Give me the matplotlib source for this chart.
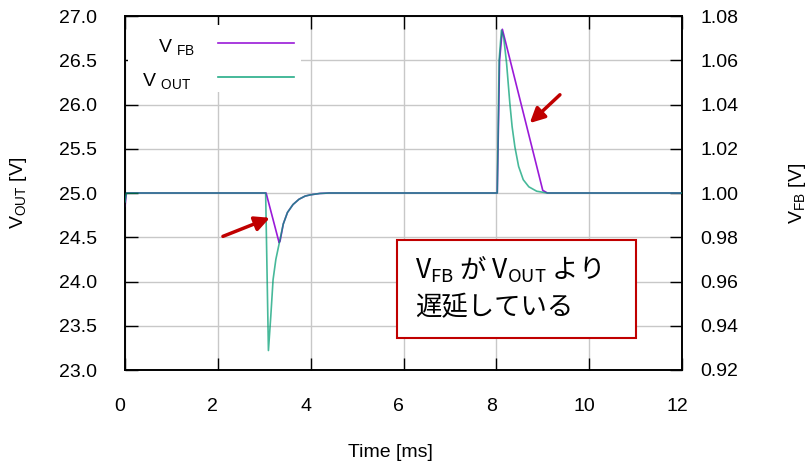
import matplotlib
matplotlib.use("Agg")
from matplotlib import pyplot as plt
from matplotlib.patches import Rectangle
import matplotlib.transforms as mtransforms

plt.rcParams['font.family'] = ['Liberation Sans', 'Noto Sans CJK JP']

# V_OUT (left axis, V)
t_out = [0, 0.03, 3.03, 3.09, 3.14, 3.19, 3.25, 3.33, 3.41, 3.50, 3.62, 3.75,
         3.88, 4.0, 4.2, 4.4, 8.02, 8.06, 8.11, 8.16, 8.22, 8.29, 8.34, 8.40,
         8.48, 8.58, 8.70, 8.87, 9.1, 12]
v_out = [24.9, 25.0, 25.0, 23.22, 23.6, 24.02, 24.25, 24.45, 24.65, 24.78,
         24.87, 24.93, 24.965, 24.98, 24.995, 25.0, 25.0, 26.5, 26.84, 26.75,
         26.47, 26.02, 25.75, 25.52, 25.3, 25.15, 25.07, 25.02, 25.0, 25.0]

# V_FB (right axis, V)
t_fb = [0, 0.03, 3.04, 3.32, 3.34, 3.41, 3.50, 3.62, 3.75, 3.88, 4.0, 4.2,
        4.4, 8.02, 8.07, 8.13, 9.0, 9.1, 12]
v_fb = [0.994, 1.0, 1.0, 0.9776, 0.9782, 0.986, 0.9912, 0.9948, 0.9972,
        0.9986, 0.9992, 0.9998, 1.0, 1.0, 1.06, 1.074, 1.0012, 1.0, 1.0]

xticks = [0, 2, 4, 6, 8, 10, 12]
yticks_l = [23.0, 23.5, 24.0, 24.5, 25.0, 25.5, 26.0, 26.5, 27.0]
yticks_r = [0.92, 0.94, 0.96, 0.98, 1.00, 1.02, 1.04, 1.06, 1.08]

c_fb = '#9a1ad8'
c_out = '#009e73'
red = '#c00000'

fig = plt.figure(figsize=(8.1, 4.65), dpi=100)
ax = fig.add_axes([125/810, 1-370/465, 557/810, 354/465])
ax2 = ax.twinx()
# V_FB axes underneath, V_OUT axes on top
ax2.set_zorder(0)
ax.set_zorder(1)
ax.patch.set_visible(False)
ax2.patch.set_visible(True)
ax2.patch.set_facecolor('white')

ax2.plot(t_fb, v_fb, color=c_fb, lw=1.2, zorder=3)
ax.plot(t_out, v_out, color=c_out, lw=1.2, alpha=0.72, zorder=3)

ax.set_xlim(0, 12)
ax.set_ylim(23, 27)
ax2.set_ylim(0.92, 1.08)
ax.set_xticks(xticks)
ax.set_yticks(yticks_l)
ax.set_yticklabels(["%.1f" % v for v in yticks_l])
ax2.set_yticks(yticks_r)
ax2.set_yticklabels(["%.2f" % v for v in yticks_r])

# grid lives on the bottom axes
ax2.xaxis.set_visible(True)
ax2.set_xticks(xticks)
ax2.tick_params(axis='x', bottom=False, top=False, labelbottom=False, labeltop=False)
ax2.grid(True, color='#c8c8c8', lw=1)
ax2.set_axisbelow(True)
ax.grid(False)

ax.tick_params(axis='both', direction='in', length=9, width=1, labelsize=14,
               top=True, right=False)
ax.tick_params(axis='y', pad=20)
ax.tick_params(axis='x', pad=20)
ax2.tick_params(axis='y', direction='in', length=9, width=1, labelsize=14, pad=13)
for s in list(ax.spines.values()) + list(ax2.spines.values()):
    s.set_linewidth(1.2)

# gnuplot puts x tick labels a little to the left
off = mtransforms.ScaledTranslation(-5/100, 0, fig.dpi_scale_trans)
for lab in ax.get_xticklabels():
    lab.set_transform(lab.get_transform() + off)

ax.set_ylabel(r'V$_{\mathregular{OUT}}$ [V]', fontsize=14)
ax.yaxis.set_label_coords(-0.172, 0.5)
ax2.set_ylabel(r'V$_{\mathregular{FB}}$ [V]', fontsize=14)
ax2.yaxis.set_label_coords(1.188, 0.5)
ax.set_xlabel('Time [ms]', fontsize=14)
ax.xaxis.set_label_coords(0.476, -0.21)

# legend (drawn by hand: right-aligned labels, sample lines to the right)
ax.add_patch(Rectangle((0.006, 0.785), 0.31, 0.19, transform=ax.transAxes,
                       facecolor='white', edgecolor='none', zorder=4))
ax.text(0.126, 0.895, r'V $_{\mathregular{FB}}$', transform=ax.transAxes,
        ha='right', va='baseline', fontsize=14, zorder=5)
ax.text(0.119, 0.80, r'V $_{\mathregular{OUT}}$', transform=ax.transAxes,
        ha='right', va='baseline', fontsize=14, zorder=5)
ax.plot([0.167, 0.303], [0.923, 0.923], color=c_fb, lw=1.2,
        transform=ax.transAxes, zorder=5)
ax.plot([0.167, 0.303], [0.829, 0.829], color=c_out, lw=1.2, alpha=0.85,
        transform=ax.transAxes, zorder=5)

# arrows
ax.annotate('', xy=(3.12, 24.72), xytext=(2.11, 24.51),
            arrowprops=dict(arrowstyle='-|>', color=red, lw=2.5,
                            mutation_scale=22, shrinkA=0, shrinkB=0), zorder=6)
ax.annotate('', xy=(8.72, 25.79), xytext=(9.37, 26.11),
            arrowprops=dict(arrowstyle='-|>', color=red, lw=2.5,
                            mutation_scale=22, shrinkA=0, shrinkB=0), zorder=6)

# note box
ax.add_patch(Rectangle((5.86, 23.36), 11.01-5.86, 24.47-23.36,
                       facecolor='white', edgecolor=red, lw=1.5, zorder=6))
ax.text(6.25, 24.03, r'V$_{\mathregular{FB}}$ が V$_{\mathregular{OUT}}$ より',
        ha='left', va='baseline', fontsize=19, family='Noto Sans CJK JP', zorder=7)
ax.text(6.25, 23.62, '遅延している',
        ha='left', va='baseline', fontsize=19, family='Noto Sans CJK JP', zorder=7)

fig.savefig('out.png', dpi=100)
